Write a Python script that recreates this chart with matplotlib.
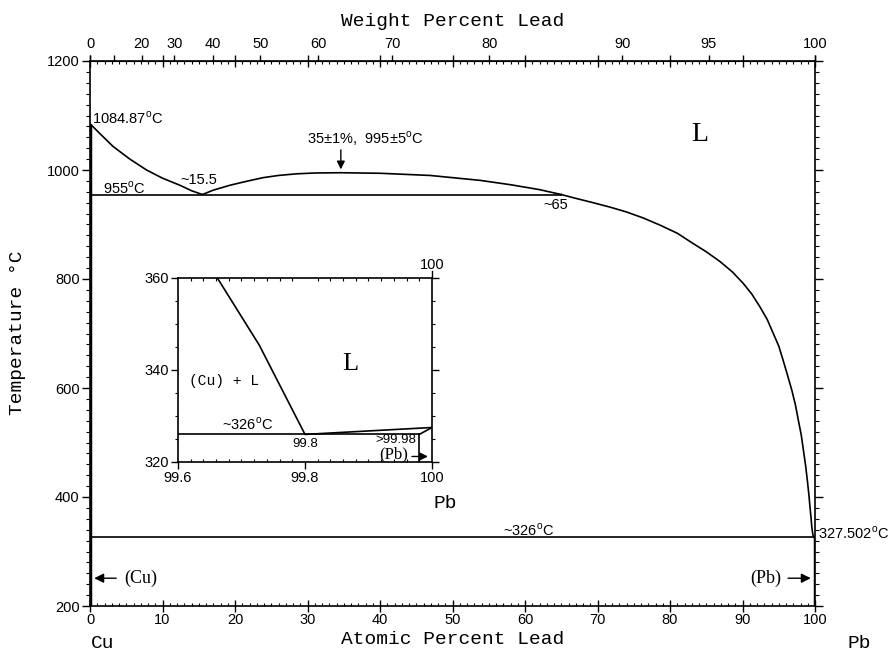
import numpy as np
import matplotlib
matplotlib.use("Agg")
import matplotlib.pyplot as plt

plt.rcParams['font.family'] = ['Liberation Sans', 'DejaVu Sans']
plt.rcParams['mathtext.fontset'] = 'custom'
plt.rcParams['mathtext.rm'] = 'Liberation Sans'
plt.rcParams['mathtext.sf'] = 'Liberation Sans'

MONO = 'Liberation Mono'
SERIF = 'Liberation Serif'

# ---------- Phase boundaries (at.% Pb, deg C) ----------
cu_liq_x = [0, 1.5, 3.2, 5.5, 7.8, 10, 12.4, 14, 15.5]
cu_liq_t = [1084.87, 1065, 1043, 1020, 1000, 985, 972, 962, 955]

gap_x = [15.5, 17, 19.3, 21.5, 23.9, 26, 28.5, 31, 34.5, 40, 46.9, 53.8, 58, 62, 65]
gap_t = [955, 963, 972, 979, 986, 990, 993, 994.5, 995, 994, 990, 981, 973, 964, 955]

pb_liq_x = [65, 67, 69.4, 71.7, 74, 76.3, 78.6, 81, 83.2, 85, 86.9, 88.6, 90.1,
            91.3, 92.4, 93.4, 94.25, 95, 95.6, 96.2, 96.8, 97.3, 97.7, 98.1, 98.4,
            98.7, 98.94, 99.15, 99.32, 99.45, 99.56, 99.68, 99.8, 100]
pb_liq_t = [955, 948, 940, 932, 923, 912, 899, 884, 865, 850, 832, 813, 792,
            772, 749, 726, 700, 677, 651, 624, 596, 569, 541, 514, 486,
            458, 431, 405, 380, 362, 345, 333, 326, 327.502]

monotectic_t = 955
eutectic_t = 326

# Pb-rich corner (inset)
ins_liq_x = [99.662, 99.728, 99.8, 100]
ins_liq_t = [360, 345.4, 326, 327.502]
ins_sol_x = [99.98, 100]
ins_sol_t = [326, 327.502]

# ---------- Axis ticks ----------
wt_labels = [0, 20, 30, 40, 50, 60, 70, 80, 90, 95, 100]
wt_ticks = [0, 10, 20, 30, 40, 50, 60, 70, 80, 90, 95, 100]
at_major = np.arange(0, 101, 10)
t_major = np.arange(200, 1201, 200)

M_CU, M_PB = 63.546, 207.2


def wt2at(w):
    w = np.asarray(w, dtype=float)
    a = w / M_PB
    b = (100 - w) / M_CU
    with np.errstate(divide='ignore', invalid='ignore'):
        return 100 * a / (a + b)


def at2wt(x):
    x = np.asarray(x, dtype=float)
    a = x * M_PB
    b = (100 - x) * M_CU
    with np.errstate(divide='ignore', invalid='ignore'):
        return 100 * a / (a + b)


fig = plt.figure(figsize=(8.96, 6.54), dpi=100)
W, H = 896, 654


def px_axes(x0, y0, x1, y1):
    return fig.add_axes([x0 / W, 1 - y1 / H, (x1 - x0) / W, (y1 - y0) / H])


def px_text(x, y, s, **kw):
    return fig.text(x / W, 1 - y / H, s, ha='center', va='center', **kw)


ax = px_axes(90, 61, 815, 606)
ax.set_xlim(0, 100)
ax.set_ylim(200, 1200)

lw = 1.2
ax.plot(cu_liq_x, cu_liq_t, 'k-', lw=lw)
ax.plot(gap_x, gap_t, 'k-', lw=lw)
ax.plot(pb_liq_x, pb_liq_t, 'k-', lw=lw)
ax.plot([0, 65], [monotectic_t, monotectic_t], 'k-', lw=lw)
ax.plot([0, 100], [eutectic_t, eutectic_t], 'k-', lw=lw)
ax.plot([0, 0], [200, 1084.87], 'k-', lw=2.5, solid_capstyle='butt')
ax.plot([100, 100], [200, 327.502], 'k-', lw=2.5, solid_capstyle='butt')

# ticks
ax.set_xticks(at_major)
ax.set_xticks(np.arange(0, 101, 1), minor=True)
ax.set_yticks(t_major)
ax.set_yticks(np.arange(200, 1201, 20), minor=True)
ax.tick_params(axis='x', which='major', direction='inout', length=8, width=1,
               top=True, labelsize=10.5, pad=1)
ax.tick_params(axis='x', which='minor', direction='in', length=2.5, width=0.8, top=True)
ax.tick_params(axis='y', which='major', direction='out', length=6, width=1,
               right=True, labelsize=10.5, pad=1.5)
ax.tick_params(axis='y', which='minor', direction='out', length=3, width=0.8, right=True)
for s in ax.spines.values():
    s.set_linewidth(1.2)

sec = ax.secondary_xaxis('top', functions=(at2wt, wt2at))
sec.set_xticks(wt_ticks)
sec.set_xticklabels([str(w) if w in wt_labels else '' for w in wt_ticks])
sec.tick_params(direction='out', length=4, width=1, labelsize=10.5, pad=3)

# axis titles
px_text(453, 21, 'Weight Percent Lead', family=MONO, fontsize=14)
px_text(453, 640, 'Atomic Percent Lead', family=MONO, fontsize=14)
px_text(18, 333, 'Temperature °C', family=MONO, fontsize=14, rotation=90)
px_text(103, 643, 'Cu', family=MONO, fontsize=14)
px_text(859, 643, 'Pb', family=MONO, fontsize=14)
px_text(445, 504, 'Pb', family=MONO, fontsize=14)

deg = r'$^{\mathrm{o}}$C'
ax.text(0.3, 1095, '1084.87' + deg, fontsize=10.5, ha='left', va='center')
ax.text(1.8, 967, '955' + deg, fontsize=10.5, ha='left', va='center')
ax.text(12.4, 982, '~15.5', fontsize=10.5, ha='left', va='center')
ax.text(38.0, 1057, '35±1%,  995±5' + deg, fontsize=10.5, ha='center', va='center')
ax.annotate('', xy=(34.6, 996), xytext=(34.6, 1042),
            arrowprops=dict(arrowstyle='-|>', color='k', lw=1, mutation_scale=12))
ax.text(62.5, 936, '~65', fontsize=10.5, ha='left', va='center')
ax.text(84.1, 1066, 'L', family=SERIF, fontsize=20, ha='center', va='center')
ax.text(60.5, 339, '~326' + deg, fontsize=10.5, ha='center', va='center')
ax.text(100.4, 334, '327.502' + deg, fontsize=10.5, ha='left', va='center',
        clip_on=False)

ax.annotate('', xy=(0.2, 251), xytext=(4.0, 251),
            arrowprops=dict(arrowstyle='-|>', color='k', lw=1, mutation_scale=14))
ax.text(4.7, 251, '(Cu)', family=SERIF, fontsize=13, ha='left', va='center')
ax.annotate('', xy=(99.8, 251), xytext=(95.9, 251),
            arrowprops=dict(arrowstyle='-|>', color='k', lw=1, mutation_scale=14))
ax.text(95.3, 251, '(Pb)', family=SERIF, fontsize=13, ha='right', va='center')

# ---------- Inset ----------
ins = px_axes(178, 278, 432, 462)
ins.set_xlim(99.6, 100)
ins.set_ylim(320, 360)
ins.plot(ins_liq_x, ins_liq_t, 'k-', lw=lw)
ins.plot(ins_sol_x, ins_sol_t, 'k-', lw=lw)
ins.plot([99.6, 99.98], [eutectic_t, eutectic_t], 'k-', lw=lw)
ins.plot([99.98, 99.98], [320, eutectic_t], 'k-', lw=lw)

ins.set_xticks([99.6, 99.8, 100])
ins.set_xticklabels(['99.6', '99.8', '100'])
ins.set_xticks(np.arange(99.6, 100.001, 0.02), minor=True)
ins.set_yticks([320, 340, 360])
ins.set_yticks(np.arange(320, 361, 5), minor=True)
ins.tick_params(axis='x', which='major', direction='out', length=5, width=1,
                top=False, labelsize=10.5, pad=1.5)
ins.tick_params(axis='x', which='minor', direction='in', length=2.5, width=0.8, top=True)
ins.tick_params(axis='y', which='major', direction='out', length=5, width=1,
                right=True, labelsize=10.5, pad=1.5)
ins.tick_params(axis='y', which='minor', direction='out', length=2.5, width=0.8, right=True)
for s in ins.spines.values():
    s.set_linewidth(1.2)
ins.text(100, 361.2, '100', fontsize=10.5, ha='center', va='bottom')
ins.plot([100, 100], [360, 361.5], 'k-', lw=1, clip_on=False)

ins.text(99.669, 326.4, '~326' + deg, fontsize=10.5, ha='left', va='bottom')
ins.text(99.80, 323.9, '99.8', fontsize=9.5, ha='center', va='center')
ins.text(99.943, 324.7, '>99.98', fontsize=9.5, ha='center', va='center')
ins.text(99.939, 321.7, '(Pb)', family=SERIF, fontsize=12, ha='center', va='center')
ins.annotate('', xy=(99.998, 321.2), xytext=(99.964, 321.2),
             arrowprops=dict(arrowstyle='-|>', color='k', lw=1, mutation_scale=12))
ins.text(99.617, 337.5, '(Cu) + L', family=MONO, fontsize=10.5, ha='left', va='center')
ins.text(99.872, 341.3, 'L', family=SERIF, fontsize=19, ha='center', va='center')

fig.savefig('out.png', dpi=100)
